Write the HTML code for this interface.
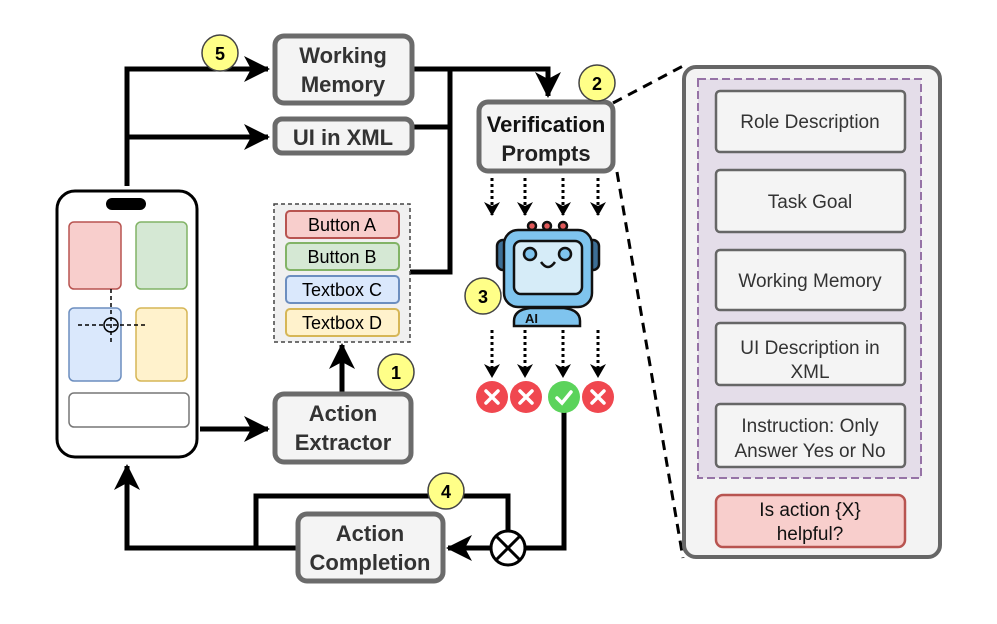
<!DOCTYPE html>
<html><head><meta charset="utf-8"><style>body{margin:0;background:#fff}text{font-family:"Liberation Sans",Arial,sans-serif}</style></head><body>
<svg width="997" height="619" viewBox="0 0 997 619" xmlns="http://www.w3.org/2000/svg">
<defs>
<marker id="b" markerWidth="26" markerHeight="26" refX="24" refY="13" orient="auto" markerUnits="userSpaceOnUse"><path d="M0,0 L26,13 L0,26 L7,13z" fill="#000"/></marker>
<marker id="c" markerWidth="14" markerHeight="16" refX="13" refY="8" orient="auto" markerUnits="userSpaceOnUse"><path d="M0,0 L14,8 L0,16 L4,8z" fill="#000"/></marker>
</defs>
<g fill="none" stroke="#000" stroke-width="5">
<path d="M127,186 V69 H268" marker-end="url(#b)"/>
<path d="M127,137 H268" marker-end="url(#b)"/>
<path d="M412,69 H548 V96" marker-end="url(#b)"/>
<path d="M450,69 V272 H410"/>
<path d="M412,127 H450"/>
<path d="M200,429 H268" marker-end="url(#b)"/>
<path d="M342,393 V345" marker-end="url(#b)"/>
<path d="M564,412 V548 H525"/>
<path d="M491,548 H448" marker-end="url(#b)"/>
<path d="M297,548 H127 V466" marker-end="url(#b)"/>
<path d="M256,548 V496 H508 V531"/>
</g>
<g stroke="#000" stroke-width="3" stroke-dasharray="3,3" fill="none">
<path d="M492,178 V215" marker-end="url(#c)"/><path d="M525,178 V215" marker-end="url(#c)"/><path d="M563,178 V215" marker-end="url(#c)"/><path d="M598,178 V215" marker-end="url(#c)"/>
<path d="M492,330 V377" marker-end="url(#c)"/><path d="M525,330 V377" marker-end="url(#c)"/><path d="M563,330 V377" marker-end="url(#c)"/><path d="M598,330 V377" marker-end="url(#c)"/>
</g>
<g stroke="#000" stroke-width="3" stroke-dasharray="10,7" fill="none"><path d="M613,103 L683,66"/><path d="M617,172 L683,558"/></g>
<g fill="#f4f4f4" stroke="#6b6b6b" stroke-width="5">
<rect x="275" y="36" width="137" height="67" rx="9"/>
<rect x="275" y="119" width="137" height="34" rx="7"/>
<rect x="479" y="102" width="134" height="69" rx="9"/>
<rect x="275" y="394" width="136" height="68" rx="9"/>
<rect x="298" y="514" width="145" height="67" rx="9"/>
</g>
<g font-weight="bold" font-size="22" fill="#333" text-anchor="middle">
<text x="343" y="63">Working</text><text x="343" y="92">Memory</text>
<text x="343" y="145">UI in XML</text>
<text x="546" y="132" fill="#111">Verification</text><text x="546" y="161" fill="#222">Prompts</text>
<text x="343" y="421">Action</text><text x="343" y="450">Extractor</text>
<text x="370" y="541">Action</text><text x="370" y="570">Completion</text>
</g>
<rect x="274" y="204" width="136" height="138" fill="#f0f0f0" stroke="#444" stroke-width="1.5" stroke-dasharray="4,3"/>
<g stroke-width="2">
<rect x="286" y="211" width="113" height="27" rx="4" fill="#f8cecc" stroke="#b85450"/>
<rect x="286" y="243" width="113" height="27" rx="4" fill="#d5e8d4" stroke="#82b366"/>
<rect x="286" y="276" width="113" height="27" rx="4" fill="#dae8fc" stroke="#6c8ebf"/>
<rect x="286" y="309" width="113" height="27" rx="4" fill="#fff2cc" stroke="#d6b656"/>
</g>
<g font-size="18" fill="#000" text-anchor="middle">
<text x="342" y="231">Button A</text><text x="342" y="263">Button B</text><text x="342" y="296">Textbox C</text><text x="342" y="329">Textbox D</text>
</g>
<rect x="57" y="191" width="140" height="266" rx="18" fill="#fff" stroke="#000" stroke-width="3"/>
<rect x="106" y="198" width="40" height="12" rx="6" fill="#000"/>
<g stroke-width="1.5">
<rect x="69" y="222" width="52" height="67" rx="5" fill="#f8cecc" stroke="#b85450"/>
<rect x="136" y="222" width="51" height="67" rx="5" fill="#d5e8d4" stroke="#82b366"/>
<rect x="69" y="308" width="52" height="73" rx="5" fill="#dae8fc" stroke="#6c8ebf"/>
<rect x="136" y="308" width="51" height="73" rx="5" fill="#fff2cc" stroke="#d6b656"/>
<rect x="69" y="393" width="120" height="34" rx="5" fill="#fff" stroke="#777"/>
</g>
<g stroke="#000" stroke-width="1.5" fill="none"><path d="M111,289 V345 M78,325 H146" stroke-dasharray="4,3"/><circle cx="111" cy="325" r="7"/></g>
<g stroke="#111" stroke-width="2.5">
<circle cx="532" cy="226" r="4" fill="#e05a5a"/><circle cx="547" cy="226" r="4" fill="#e05a5a"/><circle cx="563" cy="226" r="4" fill="#e05a5a"/>
<rect x="497" y="240" width="12" height="30" rx="6" fill="#3d6f96"/><rect x="587" y="240" width="12" height="30" rx="6" fill="#3d6f96"/>
<path d="M514,321 Q514,310 530,308 H564 Q580,310 580,321 V326 H514z" fill="#7fc4ee"/>
<rect x="504" y="230" width="88" height="77" rx="14" fill="#7fc4ee"/>
<rect x="514" y="241" width="68" height="53" rx="7" fill="#d6ecf8"/>
<circle cx="530" cy="254" r="6" fill="#7fc4ee"/><circle cx="565" cy="254" r="6" fill="#7fc4ee"/>
<path d="M541,262 Q548,272 555,262" fill="none"/>
</g>
<text x="525" y="323" font-size="13" font-weight="bold" fill="#111">AI</text>
<g><circle cx="492" cy="397" r="16" fill="#f0474f"/><circle cx="526" cy="397" r="16" fill="#f0474f"/><circle cx="564" cy="397" r="16" fill="#5bd35b"/><circle cx="598" cy="397" r="16" fill="#f0474f"/></g>
<g stroke="#fff" stroke-width="3.5" stroke-linecap="round" fill="none">
<path d="M486,391 l12,12 m0,-12 l-12,12"/><path d="M520,391 l12,12 m0,-12 l-12,12"/><path d="M592,391 l12,12 m0,-12 l-12,12"/><path d="M557,398 l5,5 l9,-11"/>
</g>
<circle cx="508" cy="548" r="17" fill="#fff" stroke="#000" stroke-width="3"/>
<path d="M496,536 L520,560 M520,536 L496,560" stroke="#000" stroke-width="3"/>
<g fill="#ffff88" stroke="#444" stroke-width="1.5">
<circle cx="220" cy="53" r="18"/><circle cx="597" cy="83" r="18"/><circle cx="483" cy="296" r="18"/><circle cx="396" cy="372" r="18"/><circle cx="446" cy="491" r="18"/>
</g>
<g font-weight="bold" font-size="18" text-anchor="middle" fill="#000">
<text x="220" y="60">5</text><text x="597" y="90">2</text><text x="483" y="303">3</text><text x="396" y="379">1</text><text x="446" y="498">4</text>
</g>
<rect x="684" y="67" width="256" height="490" rx="12" fill="#f3f3f3" stroke="#666" stroke-width="4"/>
<rect x="698" y="79" width="223" height="399" fill="#e4dde9" stroke="#9673a6" stroke-width="2" stroke-dasharray="8,4"/>
<g fill="#f4f4f4" stroke="#666" stroke-width="2.5">
<rect x="716" y="91" width="189" height="61" rx="4"/><rect x="716" y="170" width="189" height="62" rx="4"/><rect x="716" y="250" width="189" height="60" rx="4"/><rect x="716" y="323" width="189" height="62" rx="4"/><rect x="716" y="404" width="189" height="63" rx="4"/>
</g>
<rect x="716" y="495" width="189" height="52" rx="7" fill="#f8cecc" stroke="#b85450" stroke-width="2.5"/>
<g font-size="19" fill="#333" text-anchor="middle">
<text x="810" y="128">Role Description</text><text x="810" y="208">Task Goal</text><text x="810" y="287">Working Memory</text>
<text x="810" y="354">UI Description in</text><text x="810" y="378">XML</text>
<text x="810" y="432">Instruction: Only</text><text x="810" y="457">Answer Yes or No</text>
<text x="810" y="516" fill="#111">Is action {X}</text><text x="810" y="540" fill="#111">helpful?</text>
</g>
</svg>
</body></html>
